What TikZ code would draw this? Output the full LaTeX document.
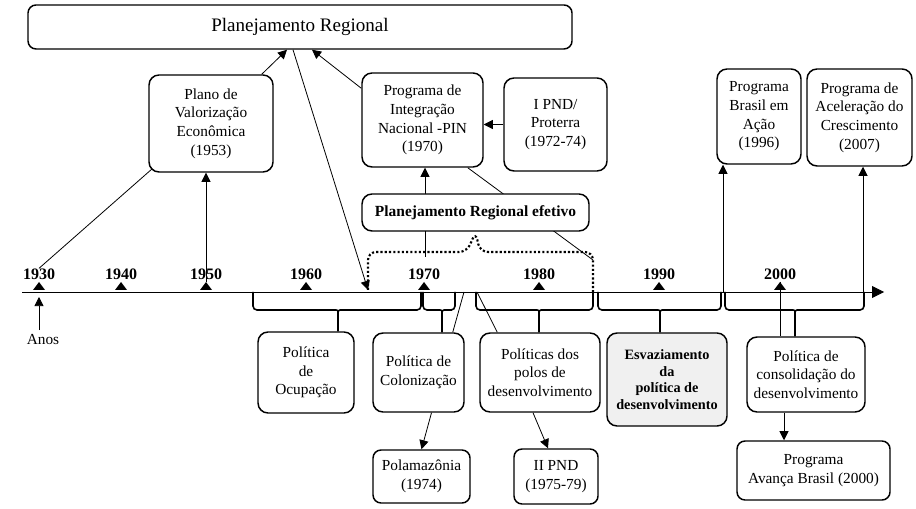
\documentclass[tikz,border=0pt]{standalone}
\usepackage{fontspec}
\setmainfont{Liberation Serif}
\usetikzlibrary{arrows.meta}
\newlength{\du}
\setlength{\du}{0.75pt}

\begin{document}
\begin{tikzpicture}[x=\du, y=-\du,
  box/.style={draw, line width=1.1pt, rounded corners=10\du, fill=white, align=center,
    inner sep=0pt, font=\fontsize{11.5}{14}\selectfont},
  sz/.style 2 args={minimum width=#1\du, minimum height=#2\du},
  conn/.style={line width=0.6pt},
  arr/.style={conn, -{Triangle[length=6.8pt,width=6.8pt]}},
  brc/.style={line width=1.2pt, rounded corners=4\du},
  dotbrc/.style={line width=1.6pt, dash pattern=on 1.6pt off 1.6pt, rounded corners=8\du},
  year/.style={inner sep=0pt, font=\bfseries\fontsize{12}{14}\selectfont}]
\useasboundingbox (0,0) rectangle (916,509);

% timeline and years
\coordinate (tl0) at (22,292);
\coordinate (tl1) at (884,292);
\draw[conn, -{Triangle[length=9pt,width=9pt]}] (tl0) -- (tl1);
\foreach \yr/\xx in {1930/39,1940/121,1950/206,1960/306,1970/424,1980/539,1990/659,2000/780}{
  \fill (\xx-6,290) -- (\xx+6,290) -- (\xx,282) -- cycle;
  \coordinate (t\yr) at (\xx,282);
  \node[year] (y\yr) at (\xx,274) {\yr};
}
\node[font=\fontsize{11.5}{14}\selectfont] (anos) at (43,340) {Anos};
\coordinate (a1930) at (39,297);
\draw[arr] (anos.north -| a1930) -- (a1930);

% upper boxes
\node[box, sz={544}{44}, rounded corners=8\du, font=\fontsize{14.3}{17}\selectfont] (planreg) at (300,27) {Planejamento Regional};
\node[box, sz={124}{97}] (plano) at (211,123.5) {Plano de\\Valorização\\Econômica\\(1953)};
\node[box, sz={121}{94}] (pin) at (422.5,120) {Programa de\\Integração\\Nacional -PIN\\(1970)};
\node[box, sz={103}{93}] (ipnd) at (555.5,124.5) {I PND/\\Proterra\\(1972-74)};
\node[box, sz={84}{95}] (brasil) at (759,116.5) {Programa\\Brasil em\\Ação\\(1996)};
\node[box, sz={105}{97}] (acel) at (859.5,117.5) {Programa de\\Aceleração do\\Crescimento\\(2007)};

\coordinate (dl) at (368,290);
\coordinate (dr) at (593,260);
\draw[arr] ([xshift=-12\du]plano.north east) -- ([xshift=-13\du]planreg.south);
\draw[conn] (y1930.north) -- ([xshift=4\du,yshift=4\du]plano.south west);
\draw[arr] (t1950) -- (t1950 |- plano.south);
\draw[arr] ([xshift=-7\du]planreg.south) -- (dl);
\draw[arr] ([yshift=-16\du]pin.north west) -- ([xshift=12\du]planreg.south);
\draw[arr] (ipnd.west) -- (ipnd.west -| pin.east);

\coordinate (c1970) at (425,257);
\draw[arr] (c1970) -- (c1970 |- pin.south);
\draw[conn] ([xshift=-16\du]pin.south east) -- (dr);
\node[box, sz={227}{37}, font=\bfseries\fontsize{11.6}{14}\selectfont] (efetivo) at (475.5,212.5) {Planejamento Regional efetivo};
\draw[dotbrc] (dl) -- (368,252) -- (467,252) -- (efetivo.south) -- (480,252) -- (593,252) -- (593,292);

\coordinate (c1996) at (723,292);
\draw[arr] (c1996) -- (c1996 |- brasil.south);
\coordinate (c2007) at (863,292);
\draw[arr] (c2007) -- (c2007 |- acel.south);

% lower boxes
\node[box, sz={96}{81}] (ocup) at (306,372.5) {Política\\de\\Ocupação};
\node[box, sz={91}{79}] (colon) at (418.5,372.5) {Política de\\Colonização};
\node[box, sz={120}{79}] (polos) at (540,372.5) {Políticas dos\\polos de\\desenvolvimento};
\node[box, sz={120}{93}, fill=gray!12, font=\bfseries\fontsize{10.7}{12.5}\selectfont] (esvaz) at (667,379.5) {Esvaziamento\\da\\política de\\desenvolvimento};
\node[box, sz={118}{75}] (consol) at (806,374.5) {Política de\\consolidação do\\desenvolvimento};
\node[box, sz={97}{53}, rounded corners=8\du] (polam) at (421.5,476.5) {Polamazônia\\(1974)};
\node[box, sz={84}{55}, rounded corners=8\du] (iipnd) at (556,476.5) {II PND\\(1975-79)};
\node[box, sz={153}{59}, rounded corners=8\du] (avanca) at (813.5,470.5) {Programa\\Avança Brasil (2000)};

% braces under the timeline
\foreach \a/\b/\m/\n in {253/421/338/ocup,423/455/442/colon,476/593/539/polos,598/721/660/esvaz,725/864/795/consol}{
  \coordinate (bt) at (\m,318);
  \draw[brc] (\a,292) |- (\m-6,310) .. controls (\m,310) .. (bt) -- (bt |- \n.north);
  \draw[brc] (\b,292) |- (\m+6,310) .. controls (\m,310) .. (bt);
}
\draw[conn] (t2000) -- (t2000 |- consol.north);

\coordinate (c1972) at (464,292);
\draw[conn] (c1972) -- ([xshift=-12\du]colon.north east);
\coordinate (c1973) at (477,292);
\draw[conn] (c1973) -- ([xshift=18\du]polos.north west);
\draw[arr] ([xshift=13\du]colon.south) -- (polam.north);
\draw[arr] ([xshift=-7\du]polos.south) -- ([xshift=-8\du]iipnd.north);
\coordinate (c2000) at ([xshift=-22\du]consol.south);
\draw[arr] (c2000) -- (c2000 |- avanca.north);
\end{tikzpicture}
\end{document}
